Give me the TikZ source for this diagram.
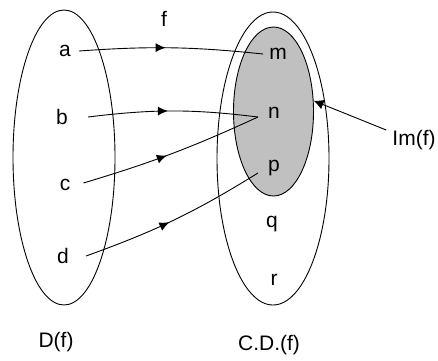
\documentclass[tikz,border=0pt]{standalone}
\usepackage{fontspec}
\setmainfont{Liberation Sans}
\usetikzlibrary{shapes.geometric,arrows.meta,decorations.markings}
\definecolor{imgray}{RGB}{192,192,192}
\begin{document}
\begin{tikzpicture}[x=1pt,y=-1pt,
  lbl/.style={inner sep=0pt, font=\fontsize{21}{25}\selectfont},
  setel/.style={draw, ellipse, inner sep=0pt, line width=0.9pt},
  maparrow/.style={line width=0.9pt, postaction={decorate},
    decoration={markings, mark=at position 0.47 with {\arrow{Latex[length=10pt,width=9pt]}}}},
  pointer/.style={line width=0.9pt, -{Latex[length=10pt,width=10pt]}}
]
\useasboundingbox (0,0) rectangle (438,360);
% sets
\node[setel, minimum width=102pt, minimum height=295pt] (dom) at (64,157.5) {};
\node[setel, minimum width=112pt, minimum height=293pt] (cod) at (273,158.5) {};
\node[setel, fill=imgray, minimum width=80pt, minimum height=169pt] (img) at (273.5,111.5) {};
% labels
\node[lbl] (f) at (164,19) {f};
\node[lbl] (a) at (65,51) {a};
\node[lbl] (b) at (62,117) {b};
\node[lbl] (c) at (65,185) {c};
\node[lbl] (d) at (63,256) {d};
\node[lbl] (m) at (278,54) {m};
\node[lbl] (n) at (274,113) {n};
\node[lbl] (p) at (274,168) {p};
\node[lbl] (q) at (272,224) {q};
\node[lbl] (r) at (274,280) {r};
\node[lbl] (imf) at (414,140) {Im(f)};
\node[lbl] (df) at (56,342) {D(f)};
\node[lbl] (cdf) at (269,345) {C.D.(f)};
% mapping
\draw[maparrow] ([xshift=8pt]a.east) to[bend left=5] ([xshift=-6pt]m.west);
\draw[maparrow] ([xshift=20pt]b.east) to[bend left=7] ([xshift=-10pt,yshift=-4pt]n.west);
\draw[maparrow] ([xshift=13pt,yshift=2pt]c.east) to[bend right=4] ([xshift=-10pt,yshift=-4pt]n.west);
\draw[maparrow] ([xshift=17pt]d.east) to[bend right=6] ([xshift=-10pt,yshift=-5pt]p.west);
% image pointer
\draw[pointer] ([xshift=-6pt]imf.north west) -- (img.15);
\end{tikzpicture}
\end{document}
